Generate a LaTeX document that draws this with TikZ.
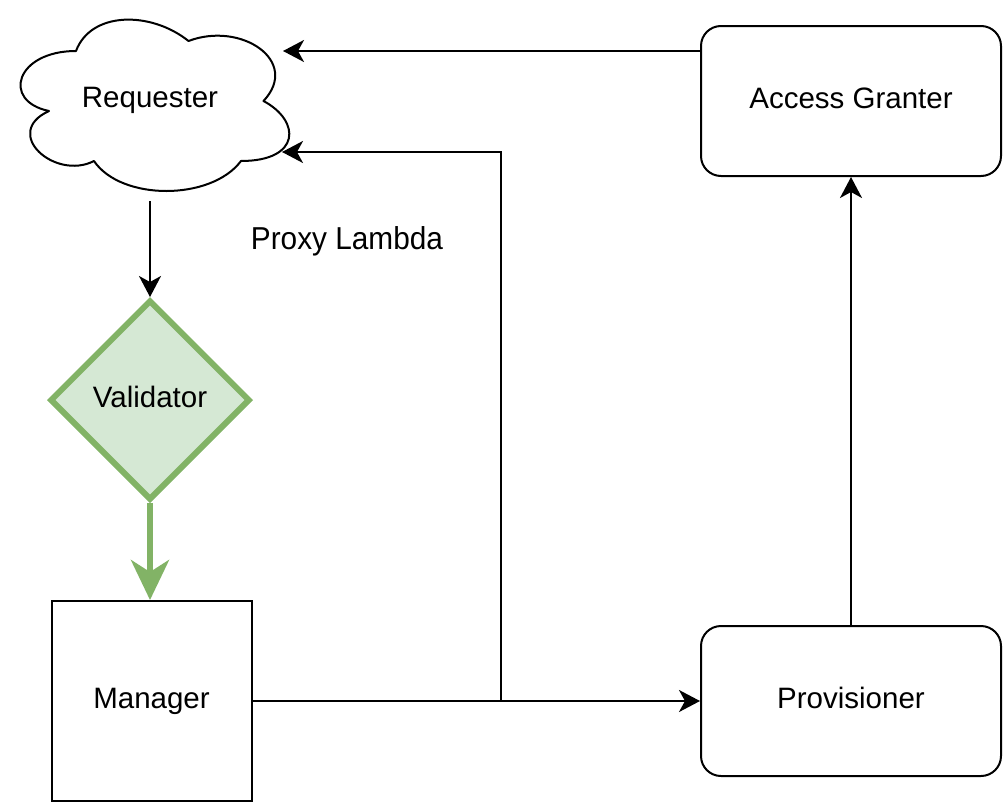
\documentclass[tikz,border=0pt]{standalone}
\usepackage{fontspec}
\setmainfont{Liberation Sans}
\newfontfamily\proxyfont[FakeStretch=0.94]{Liberation Sans}
\usetikzlibrary{arrows.meta,shapes.geometric}
\definecolor{gstroke}{HTML}{82B366}
\definecolor{gfill}{HTML}{D5E8D4}
\begin{document}
\begin{tikzpicture}[x=1pt,y=-1pt,
  lbl/.style={font=\fontsize{29.5pt}{34pt}\selectfont, text height=21pt, text depth=7pt, inner sep=0pt},
  box/.style={lbl, draw=black, line width=2pt, fill=white},
  rbox/.style={box, rounded corners=20pt, minimum width=300pt, minimum height=150pt},
  arr/.style={draw=black, line width=2pt, -{Stealth[length=21pt,width=22pt,inset=6pt]}},
  garr/.style={draw=gstroke, line width=6pt, -{Stealth[length=40pt,width=38pt,inset=12pt]}}]
\useasboundingbox (0,0) rectangle (1003,803);
% cloud
\draw[line width=2pt, fill=white, line join=round]
  (76,51) .. controls (16,51) and (1,101) .. (49,111)
  .. controls (1,133) and (55,181) .. (94,161)
  .. controls (121,201) and (211,201) .. (241,161)
  .. controls (301,161) and (301,121) .. (263.5,101)
  .. controls (301,61) and (241,21) .. (188.5,41)
  .. controls (151,11) and (91,11) .. (76,51) -- cycle;
\node[lbl] (req) at (150,100) {Requester};
\coordinate (reqA) at (283,51);
\coordinate (reqB) at (282,152);
\coordinate (reqC) at (150,201);
% nodes
\node[rbox] (ag) at (851,101) {Access Granter};
\node[rbox] (prov) at (851,701) {Provisioner};
\node[box, minimum width=200pt, minimum height=200pt] (mgr) at (151.5,701) {Manager};
\node[lbl, shape=diamond, draw=gstroke, fill=gfill, line width=6pt, minimum width=200pt, minimum height=200pt] (val) at (150,400) {Validator};
\node[font=\proxyfont\fontsize{31.7pt}{36pt}\selectfont, anchor=base, inner sep=0pt] (proxy) at (347,249) {Proxy Lambda};
% connectors
\coordinate (j) at (500.5,701);
\draw[arr] (ag.north west |- reqA) -- (reqA);
\draw[arr] (mgr.east) -- (prov.west);
\draw[arr] (j) |- (reqB);
\draw[arr] (prov.north) -- (ag.south);
\draw[arr] (reqC) -- (val.north);
\draw[garr] (val.south) -- (val.south |- mgr.north);
\end{tikzpicture}
\end{document}
